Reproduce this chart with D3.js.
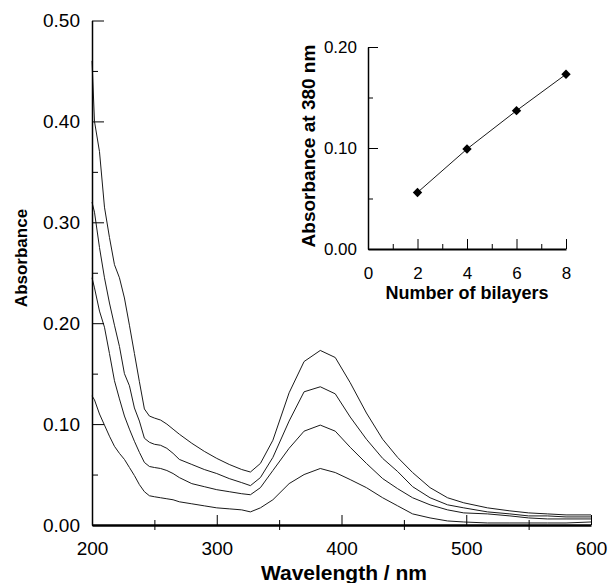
<!DOCTYPE html>
<html>
<head>
<meta charset="utf-8">
<script src="https://cdn.jsdelivr.net/npm/d3@7"></script>
<style>
  body { margin: 0; background: #fff; }
  svg { display: block; font-family: "Liberation Sans", Arial, sans-serif; }
  .domain { stroke: #000; }
  .tick line { stroke: #000; }
  .tick text { fill: #000; }
</style>
</head>
<body>
<div id="chart"></div>
<script>
// wavelengths (nm) shared by all spectra
const wavelengths = [200, 202, 206, 210, 214, 218, 222, 226, 230, 234, 238, 242, 246, 250, 255, 260, 265, 270,
  280, 290, 300, 310, 320, 327, 335, 345, 358, 370, 383, 395, 407, 420, 433, 445, 457, 471, 485, 498,
  517, 535, 550, 565, 580, 600];

// absorbance spectra, 2 / 4 / 6 / 8 bilayers
const bilayers2 = [0.128, 0.124, 0.110, 0.099, 0.088, 0.078, 0.071, 0.065, 0.057, 0.049, 0.040, 0.033, 0.029, 0.028,
  0.027, 0.026, 0.025, 0.023, 0.021, 0.019, 0.017, 0.016, 0.015, 0.013, 0.017, 0.025, 0.041, 0.050, 0.056, 0.052,
  0.045, 0.037, 0.027, 0.019, 0.011, 0.007, 0.004, 0.003, 0.002, 0.002, 0.002, 0.002, 0.002, 0.003];
const bilayers4 = [0.245, 0.235, 0.212, 0.196, 0.170, 0.143, 0.125, 0.108, 0.095, 0.083, 0.072, 0.062, 0.058, 0.057,
  0.056, 0.054, 0.051, 0.047, 0.041, 0.038, 0.035, 0.033, 0.031, 0.030, 0.037, 0.054, 0.076, 0.093, 0.099, 0.093,
  0.077, 0.061, 0.046, 0.036, 0.027, 0.020, 0.015, 0.012, 0.011, 0.009, 0.007, 0.006, 0.006, 0.006];
const bilayers6 = [0.320, 0.310, 0.275, 0.245, 0.220, 0.198, 0.177, 0.150, 0.138, 0.116, 0.103, 0.086, 0.082, 0.080,
  0.079, 0.076, 0.071, 0.065, 0.060, 0.055, 0.051, 0.046, 0.042, 0.039, 0.047, 0.067, 0.103, 0.132, 0.137, 0.130,
  0.107, 0.085, 0.066, 0.053, 0.038, 0.027, 0.020, 0.017, 0.013, 0.011, 0.009, 0.009, 0.008, 0.008];
const bilayers8 = [0.460, 0.400, 0.370, 0.315, 0.285, 0.258, 0.245, 0.225, 0.198, 0.170, 0.142, 0.115, 0.108, 0.106,
  0.104, 0.100, 0.095, 0.090, 0.081, 0.073, 0.066, 0.060, 0.055, 0.0525, 0.061, 0.084, 0.131, 0.162, 0.173, 0.166,
  0.141, 0.111, 0.085, 0.067, 0.052, 0.037, 0.027, 0.022, 0.017, 0.014, 0.012, 0.011, 0.010, 0.010];

// inset: absorbance at 380 nm vs number of bilayers
const insetLayers = [2, 4, 6, 8];
const insetAbs = [0.056, 0.099, 0.137, 0.173];

const xMajor = [200, 300, 400, 500, 600];
const xMinor = [250, 350, 450, 550];
const yMajor = [0, 0.1, 0.2, 0.3, 0.4, 0.5];
const yMinor = [0.05, 0.15, 0.25, 0.35, 0.45];
const insetXMajor = [0, 2, 4, 6, 8];
const insetXMinor = [1, 3, 5, 7];
const insetYMajor = [0, 0.1, 0.2];
const insetYMinor = [0.05, 0.15];

const W = 610, H = 583;
const svg = d3.select('#chart').append('svg').attr('width', W).attr('height', H);

// ---- main plot ----
const x = d3.scaleLinear().domain([200, 600]).range([92, 591]);
const y = d3.scaleLinear().domain([0, 0.5]).range([525, 20.5]);

const line = d3.line()
  .x((d, i) => x(wavelengths[i]))
  .y(d => y(d));

svg.append('g')
  .selectAll('path')
  .data([bilayers2, bilayers4, bilayers6, bilayers8])
  .join('path')
  .attr('d', line)
  .attr('fill', 'none')
  .attr('stroke', '#1a1a1a')
  .attr('stroke-width', 1);

// y axis
const yMin = svg.append('g').attr('transform', 'translate(92,0)')
  .call(d3.axisLeft(y).tickValues(yMinor).tickSize(-6).tickFormat(''));
yMin.select('.domain').remove();
const yAx = svg.append('g').attr('transform', 'translate(92,0)')
  .call(d3.axisLeft(y).tickValues(yMajor).tickSize(-12).tickSizeOuter(0).tickPadding(12).tickFormat(d3.format('.2f')));
yAx.select('.domain').attr('stroke-width', 1.5);
yAx.selectAll('text').attr('font-size', 19);

// x axis
const xMin = svg.append('g').attr('transform', 'translate(0,525)')
  .call(d3.axisBottom(x).tickValues(xMinor).tickSize(5).tickFormat(''));
xMin.select('.domain').remove();
xMin.selectAll('.tick line').attr('y1', -5);
const xAx = svg.append('g').attr('transform', 'translate(0,525)')
  .call(d3.axisBottom(x).tickValues(xMajor).tickSize(-10).tickSizeOuter(0).tickPadding(17));
xAx.select('.domain').attr('stroke-width', 2.5);
xAx.selectAll('text').attr('font-size', 19);

svg.append('text')
  .attr('x', 344).attr('y', 580)
  .attr('text-anchor', 'middle')
  .attr('font-size', 21).attr('font-weight', 'bold')
  .text('Wavelength / nm');

svg.append('text')
  .attr('transform', 'translate(27,258) rotate(-90)')
  .attr('text-anchor', 'middle')
  .attr('font-size', 17).attr('font-weight', 'bold')
  .text('Absorbance');

// ---- inset ----
const ix = d3.scaleLinear().domain([0, 8]).range([368, 566]);
const iy = d3.scaleLinear().domain([0, 0.2]).range([249, 47]);

const iyMin = svg.append('g').attr('transform', 'translate(368,0)')
  .call(d3.axisLeft(iy).tickValues(insetYMinor).tickSize(-5).tickFormat(''));
iyMin.select('.domain').remove();
const iyAx = svg.append('g').attr('transform', 'translate(368,0)')
  .call(d3.axisLeft(iy).tickValues(insetYMajor).tickSize(-10).tickSizeOuter(0).tickPadding(11).tickFormat(d3.format('.2f')));
iyAx.select('.domain').attr('stroke-width', 1.5);
iyAx.selectAll('text').attr('font-size', 17);

const ixMin = svg.append('g').attr('transform', 'translate(0,249)')
  .call(d3.axisBottom(ix).tickValues(insetXMinor).tickSize(-5).tickFormat(''));
ixMin.select('.domain').remove();
const ixAx = svg.append('g').attr('transform', 'translate(0,249)')
  .call(d3.axisBottom(ix).tickValues(insetXMajor).tickSize(-10).tickSizeOuter(0).tickPadding(18));
ixAx.select('.domain').attr('stroke-width', 2);
ixAx.selectAll('.tick').filter(d => d === 0).select('line').remove();
ixAx.selectAll('text').attr('font-size', 17);

svg.append('path')
  .datum(insetAbs)
  .attr('d', d3.line().x((d, i) => ix(insetLayers[i])).y(d => iy(d)))
  .attr('fill', 'none')
  .attr('stroke', '#1a1a1a')
  .attr('stroke-width', 1);

svg.append('g')
  .selectAll('path')
  .data(insetAbs)
  .join('path')
  .attr('transform', (d, i) => `translate(${ix(insetLayers[i])},${iy(d)}) rotate(45)`)
  .attr('d', d3.symbol(d3.symbolSquare, 44))
  .attr('fill', '#000');

svg.append('text')
  .attr('x', 467).attr('y', 299)
  .attr('text-anchor', 'middle')
  .attr('font-size', 18).attr('font-weight', 'bold')
  .text('Number of bilayers');

svg.append('text')
  .attr('transform', 'translate(315,146) rotate(-90)')
  .attr('text-anchor', 'middle')
  .attr('font-size', 19).attr('font-weight', 'bold')
  .text('Absorbance at 380 nm');
</script>
</body>
</html>
